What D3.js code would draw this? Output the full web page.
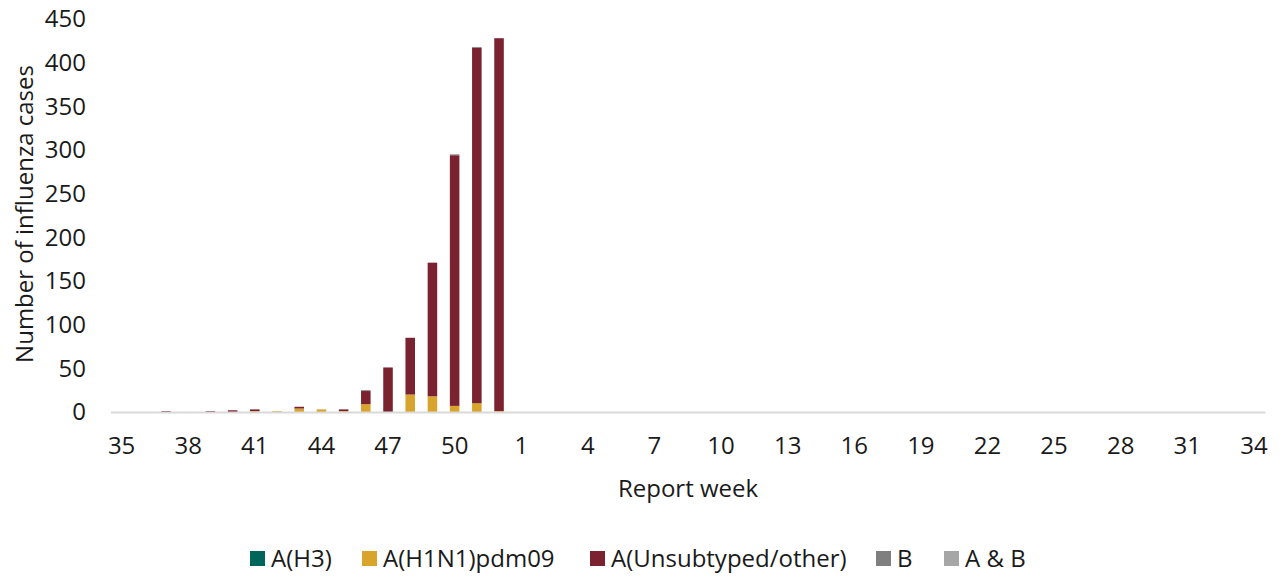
<!doctype html>
<html>
<head>
<meta charset="utf-8">
<script src="https://cdn.jsdelivr.net/npm/d3@7"></script>
<style>
  body { margin: 0; background: #fff; }
  svg text { font-family: "Open Sans", "Noto Sans", sans-serif; fill: #1a1a1a; }
</style>
</head>
<body>
<script>
// report weeks 35..52 then 1..34
const weeks = d3.range(35, 53).concat(d3.range(1, 35));
const tickWeeks = weeks.filter((d, i) => i % 3 === 0);

const seriesNames = ["A(H3)", "A(H1N1)pdm09", "A(Unsubtyped/other)", "B", "A & B"];
const seriesColors = ["#00665a", "#d8a42b", "#7b2230", "#7f7f7f", "#a6a6a6"];

// values per week (weeks without cases are 0)
const h3 = weeks.map(() => 0);
const h1n1 = {41: 1, 42: 1, 43: 4, 44: 3, 45: 1, 46: 9, 48: 20, 49: 18, 50: 7, 51: 10, 52: 1};
const unsub = {37: 1, 39: 1, 40: 2, 41: 2, 43: 2, 45: 2, 46: 15, 47: 51, 48: 65, 49: 153, 50: 287, 51: 407, 52: 427};
const bOnly = {46: 1, 50: 1, 51: 1};
const aAndB = {};

const yTicks = [0, 50, 100, 150, 200, 250, 300, 350, 400, 450];

const table = weeks.map((w, i) => ({
  week: w,
  "A(H3)": h3[i],
  "A(H1N1)pdm09": h1n1[w] || 0,
  "A(Unsubtyped/other)": unsub[w] || 0,
  "B": bOnly[w] || 0,
  "A & B": aAndB[w] || 0
}));

const w = 1285, h = 577;
const fs = "24px";
const svg = d3.select("body").append("svg").attr("width", w).attr("height", h);

const x = d3.scaleBand().domain(weeks).range([110.5, 1265]).paddingInner(0.57).paddingOuter(0.285);
const y = d3.scaleLinear().domain([0, 450]).range([412, 19]);

const stack = d3.stack().keys(seriesNames)(table);

svg.append("g").selectAll("g")
  .data(stack)
  .join("g")
  .attr("fill", (d, i) => seriesColors[i])
  .selectAll("rect")
  .data(d => d)
  .join("rect")
  .attr("x", d => x(d.data.week))
  .attr("width", x.bandwidth())
  .attr("y", d => y(d[1]))
  .attr("height", d => y(d[0]) - y(d[1]));

// x axis
const xAxis = svg.append("g")
  .attr("transform", "translate(0,412)")
  .call(d3.axisBottom(x).tickValues(tickWeeks).tickSize(0).tickPadding(25));
xAxis.select(".domain").attr("stroke", "#d9d9d9").attr("stroke-width", 2);
xAxis.selectAll("text").style("font-size", fs).style("font-family", "'Open Sans', sans-serif").attr("fill", "#1a1a1a");

// y axis
const yAxis = svg.append("g")
  .attr("transform", "translate(86,0)")
  .call(d3.axisLeft(y).tickValues(yTicks).tickSize(0).tickPadding(0));
yAxis.select(".domain").remove();
yAxis.selectAll("text").style("font-size", fs).style("font-family", "'Open Sans', sans-serif").attr("fill", "#1a1a1a");

svg.append("text")
  .attr("transform", "translate(33,214) rotate(-90)")
  .attr("text-anchor", "middle")
  .style("font-size", fs)
  .text("Number of influenza cases");

svg.append("text")
  .attr("x", 688).attr("y", 497)
  .attr("text-anchor", "middle")
  .style("font-size", fs)
  .text("Report week");

// legend
const legendX = [250, 362, 590, 876, 944];
const legend = svg.append("g").selectAll("g")
  .data(seriesNames)
  .join("g")
  .attr("transform", (d, i) => `translate(${legendX[i]},551)`);
legend.append("rect").attr("width", 15).attr("height", 15).attr("fill", (d, i) => seriesColors[i]);
legend.append("text").attr("x", 21).attr("y", 16).style("font-size", fs).text(d => d);
</script>
</body>
</html>
